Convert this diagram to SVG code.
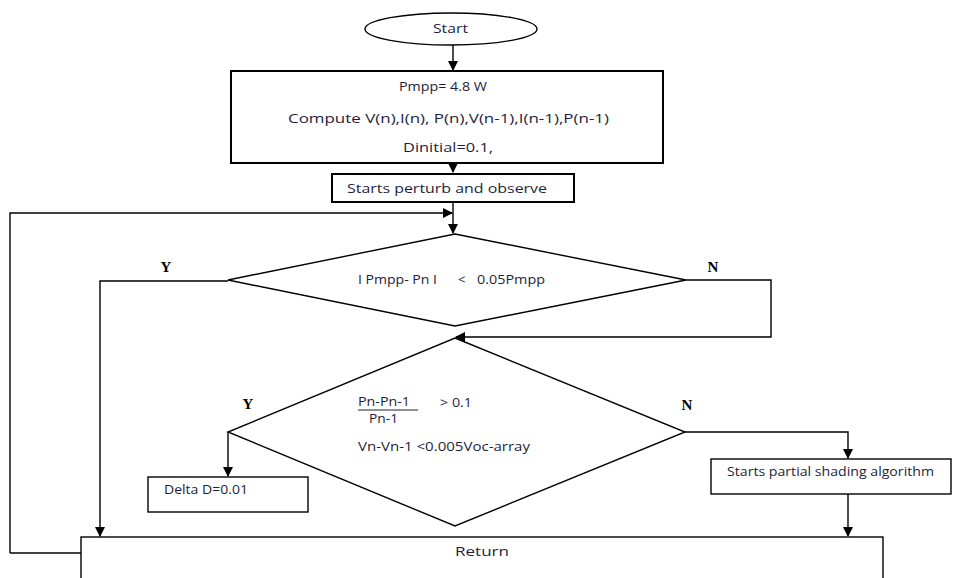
<svg xmlns="http://www.w3.org/2000/svg" width="954" height="578" viewBox="0 0 954 578">
<defs>
<marker id="ah" markerWidth="10" markerHeight="10" refX="9" refY="5" orient="auto" markerUnits="userSpaceOnUse">
<path d="M0,0 L10,5 L0,10 Z" fill="#000"/>
</marker>
<style>
.s{fill:#fff;stroke:#000;stroke-width:1.4}
.b{fill:#fff;stroke:#000;stroke-width:2}
.c{fill:none;stroke:#000;stroke-width:1.4}
.t{font-family:"Open Sans","Liberation Sans",sans-serif;font-size:13px;fill:#1e1e3c}
.l{font-family:"Liberation Serif",serif;font-size:15px;font-weight:bold;fill:#000}
</style>
</defs>
<rect width="954" height="578" fill="#fff"/>
<g id="connectors">
<path class="c" d="M453,45 V70" marker-end="url(#ah)"/>
<path class="c" d="M453,163 V172" marker-end="url(#ah)"/>
<path class="c" d="M453,202 V233" marker-end="url(#ah)"/>
<path class="c" d="M10,553 V213 H452" marker-end="url(#ah)"/>
<path class="c" d="M10,553 H81"/>
<path class="c" d="M228,281 H100 V536" marker-end="url(#ah)"/>
<path class="c" d="M686,280 H771 V337 H456" marker-end="url(#ah)"/>
<path class="c" d="M228,432 V476" marker-end="url(#ah)"/>
<path class="c" d="M685,432 H848 V458" marker-end="url(#ah)"/>
<path class="c" d="M848,494 V536" marker-end="url(#ah)"/>
</g>
<g id="start">
<ellipse class="s" cx="451" cy="29" rx="86" ry="16"/>
<text class="t" x="433" y="33" textLength="35" lengthAdjust="spacingAndGlyphs">Start</text>
</g>
<g id="init">
<rect class="b" x="231" y="71" width="432" height="92"/>
<text class="t" x="399" y="91" textLength="88" lengthAdjust="spacingAndGlyphs">Pmpp= 4.8 W</text>
<text class="t" x="288" y="123" textLength="321" lengthAdjust="spacingAndGlyphs">Compute V(n),I(n), P(n),V(n-1),I(n-1),P(n-1)</text>
<text class="t" x="403" y="152" textLength="90" lengthAdjust="spacingAndGlyphs">Dinitial=0.1,</text>
</g>
<g id="po">
<rect class="b" x="332" y="174" width="242" height="28"/>
<text class="t" x="347" y="193" textLength="200" lengthAdjust="spacingAndGlyphs">Starts perturb and observe</text>
</g>
<g id="dec1">
<polygon class="s" points="455,234 686,280 455,326 228,280"/>
<text class="t" x="358" y="284" textLength="79" lengthAdjust="spacingAndGlyphs">I Pmpp- Pn I</text>
<text class="t" x="458" y="284">&lt;</text>
<text class="t" x="477" y="284" textLength="68" lengthAdjust="spacingAndGlyphs">0.05Pmpp</text>
<text class="l" x="166" y="272" text-anchor="middle">Y</text>
<text class="l" x="713" y="272" text-anchor="middle">N</text>
</g>
<g id="dec2">
<polygon class="s" points="455,338 685,432 455,526 228,432"/>
<text class="t" x="358" y="406" textLength="52" lengthAdjust="spacingAndGlyphs">Pn-Pn-1</text>
<line x1="358" y1="410" x2="418" y2="410" stroke="#1e1e3c" stroke-width="1"/>
<text class="t" x="369" y="423" textLength="29" lengthAdjust="spacingAndGlyphs">Pn-1</text>
<text class="t" x="440" y="407" textLength="32" lengthAdjust="spacingAndGlyphs">&gt; 0.1</text>
<text class="t" x="358" y="451" textLength="172" lengthAdjust="spacingAndGlyphs">Vn-Vn-1  &lt;0.005Voc-array</text>
<text class="l" x="248" y="409" text-anchor="middle">Y</text>
<text class="l" x="687" y="410" text-anchor="middle">N</text>
</g>
<g id="delta">
<rect class="s" x="148" y="477" width="160" height="35"/>
<text class="t" x="164" y="494" textLength="84" lengthAdjust="spacingAndGlyphs">Delta D=0.01</text>
</g>
<g id="partial">
<rect class="s" x="711" y="459" width="240" height="35"/>
<text class="t" x="727" y="476" textLength="207" lengthAdjust="spacingAndGlyphs">Starts partial shading algorithm</text>
</g>
<g id="return">
<rect class="s" x="81" y="537" width="802" height="60"/>
<text class="t" x="455" y="556" textLength="54" lengthAdjust="spacingAndGlyphs">Return</text>
</g>
</svg>
